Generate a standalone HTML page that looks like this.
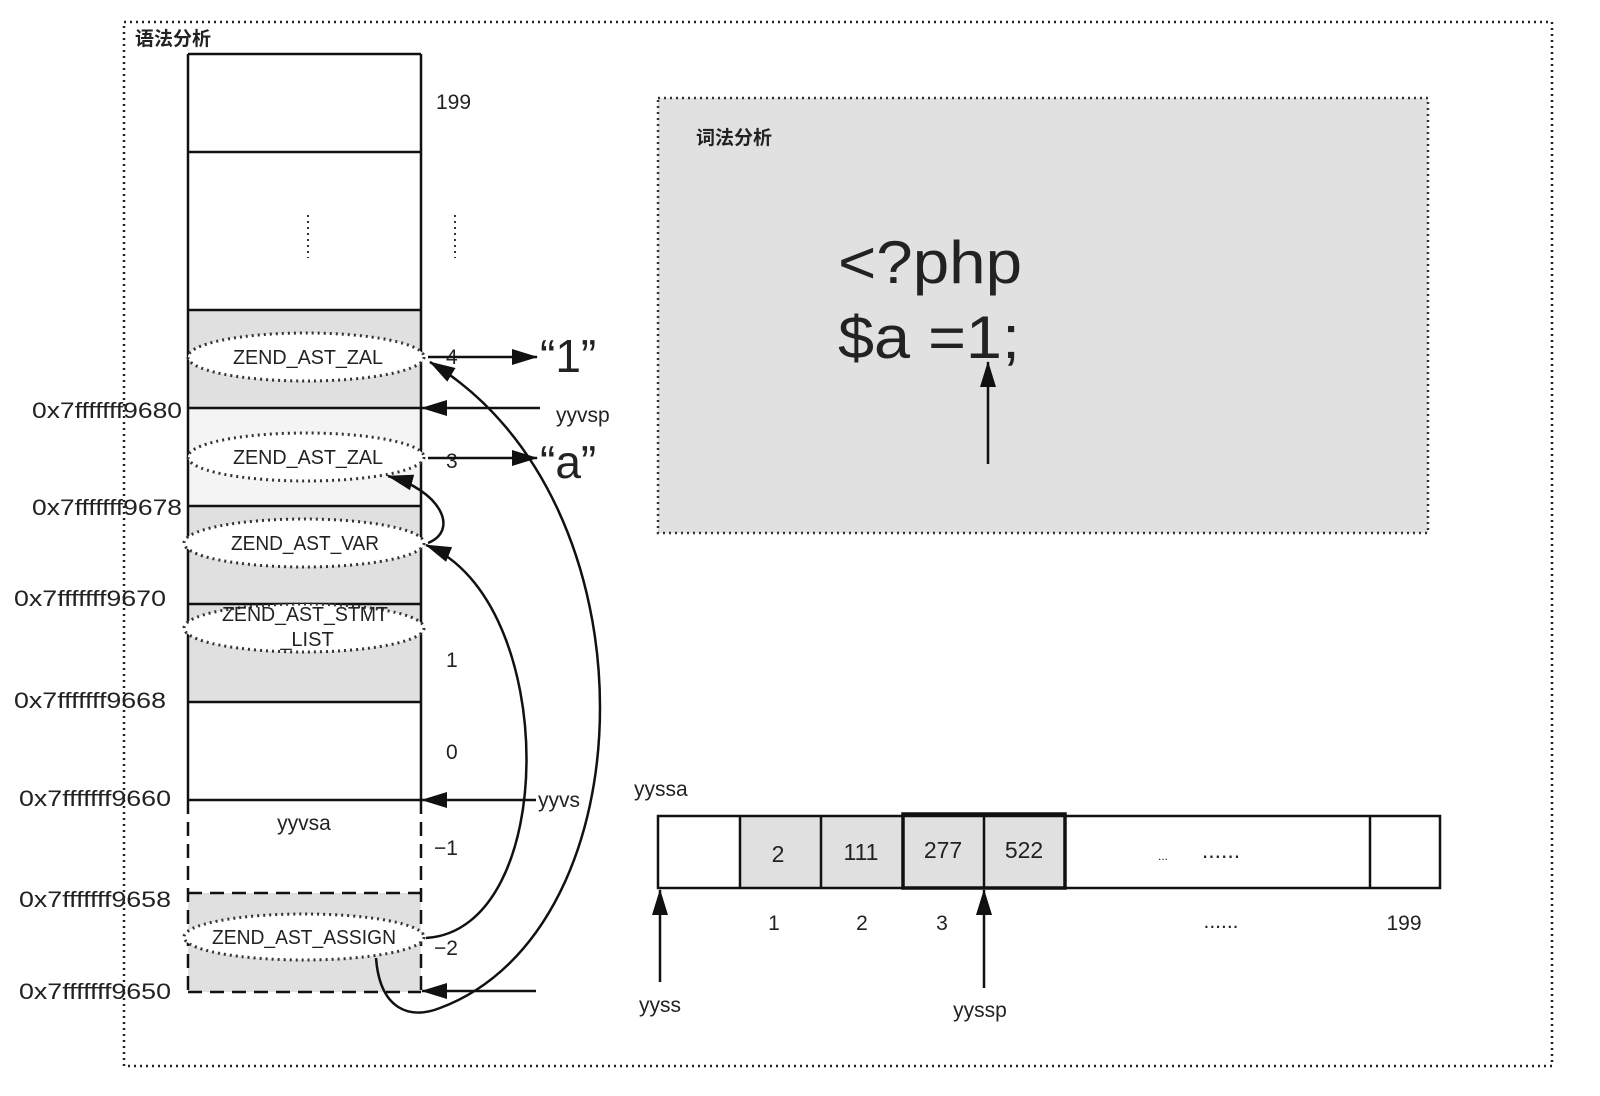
<!DOCTYPE html>
<html><head><meta charset="utf-8"><style>
html,body{margin:0;padding:0;background:#fff}
svg{display:block}
text{font-family:"Liberation Sans","Noto Sans CJK SC",sans-serif;fill:#222}
</style></head><body>
<svg width="1600" height="1096" viewBox="0 0 1600 1096" xmlns="http://www.w3.org/2000/svg">
<defs>
<marker id="arb" markerWidth="26" markerHeight="16" refX="25" refY="8" orient="auto" markerUnits="userSpaceOnUse">
<path d="M0,0 L26,8 L0,16 Z" fill="#111"/></marker>
</defs>
<rect x="124" y="22" width="1428" height="1044" fill="none" stroke="#222" stroke-width="2.5" stroke-dasharray="2,4"/>
<text x="135" y="45" font-size="19" font-weight="bold">语法分析</text>

<rect x="658" y="98" width="770" height="435" fill="#e1e1e1" stroke="#333" stroke-width="2.5" stroke-dasharray="2,4"/>
<text x="696" y="144" font-size="19" font-weight="bold">词法分析</text>
<text x="838" y="283" font-size="60" textLength="184" lengthAdjust="spacingAndGlyphs">&lt;?php</text>
<text x="838" y="358" font-size="60" textLength="182" lengthAdjust="spacingAndGlyphs">$a =1;</text>
<line x1="988" y1="464" x2="988" y2="362" stroke="#111" stroke-width="2.5" marker-end="url(#arb)"/>

<rect x="188" y="310" width="233" height="98" fill="#e0e0e0"/>
<rect x="188" y="408" width="233" height="98" fill="#f4f4f4"/>
<rect x="188" y="506" width="233" height="196" fill="#e0e0e0"/>
<rect x="188" y="893" width="233" height="99" fill="#e0e0e0"/>
<g stroke="#111" stroke-width="2.5" fill="none">
<line x1="188" y1="54" x2="421" y2="54"/>
<line x1="188" y1="54" x2="188" y2="800"/>
<line x1="421" y1="54" x2="421" y2="800"/>
<line x1="188" y1="152" x2="421" y2="152"/>
<line x1="188" y1="310" x2="421" y2="310"/>
<line x1="188" y1="408" x2="421" y2="408"/>
<line x1="188" y1="506" x2="421" y2="506"/>
<line x1="188" y1="604" x2="421" y2="604"/>
<line x1="188" y1="702" x2="421" y2="702"/>
<line x1="188" y1="800" x2="421" y2="800"/>
</g>
<g stroke="#111" stroke-width="2.5" fill="none" stroke-dasharray="14,8">
<line x1="188" y1="800" x2="188" y2="992"/>
<line x1="421" y1="800" x2="421" y2="992"/>
<line x1="188" y1="893" x2="421" y2="893"/>
<line x1="188" y1="992" x2="421" y2="992"/>
</g>
<line x1="308" y1="215" x2="308" y2="258" stroke="#333" stroke-width="2" stroke-dasharray="2,4"/>
<line x1="455" y1="215" x2="455" y2="258" stroke="#333" stroke-width="2" stroke-dasharray="2,4"/>

<g fill="#fff" stroke="#333" stroke-width="3" stroke-dasharray="2,4">
<ellipse cx="306" cy="357" rx="118" ry="24"/>
<ellipse cx="306" cy="457" rx="118" ry="24"/>
<ellipse cx="304" cy="543" rx="120" ry="24"/>
<ellipse cx="304" cy="628" rx="120" ry="24"/>
<ellipse cx="304" cy="937" rx="120" ry="23"/>
</g>
<g font-size="20" text-anchor="middle">
<text x="308" y="364" textLength="150" lengthAdjust="spacingAndGlyphs">ZEND_AST_ZAL</text>
<text x="308" y="464" textLength="150" lengthAdjust="spacingAndGlyphs">ZEND_AST_ZAL</text>
<text x="305" y="550" textLength="148" lengthAdjust="spacingAndGlyphs">ZEND_AST_VAR</text>
<text x="305" y="621" textLength="166" lengthAdjust="spacingAndGlyphs">ZEND_AST_STMT</text>
<text x="307" y="646">_LIST</text>
<text x="304" y="944" textLength="184" lengthAdjust="spacingAndGlyphs">ZEND_AST_ASSIGN</text>
<text x="304" y="830" font-size="21">yyvsa</text>
</g>

<g font-size="22">
<text x="32" y="418" textLength="150" lengthAdjust="spacingAndGlyphs">0x7fffffff9680</text>
<text x="32" y="515" textLength="150" lengthAdjust="spacingAndGlyphs">0x7fffffff9678</text>
<text x="14" y="606" textLength="152" lengthAdjust="spacingAndGlyphs">0x7fffffff9670</text>
<text x="14" y="708" textLength="152" lengthAdjust="spacingAndGlyphs">0x7fffffff9668</text>
<text x="19" y="806" textLength="152" lengthAdjust="spacingAndGlyphs">0x7fffffff9660</text>
<text x="19" y="907" textLength="152" lengthAdjust="spacingAndGlyphs">0x7fffffff9658</text>
<text x="19" y="999" textLength="152" lengthAdjust="spacingAndGlyphs">0x7fffffff9650</text>
</g>

<g font-size="21">
<text x="436" y="109">199</text>
<text x="446" y="364">4</text>
<text x="446" y="468">3</text>
<text x="446" y="667">1</text>
<text x="446" y="759">0</text>
<text x="434" y="855">−1</text>
<text x="434" y="955">−2</text>
<text x="556" y="422">yyvsp</text>
<text x="538" y="807">yyvs</text>
</g>
<text x="540" y="372" font-size="46">“1”</text>
<text x="540" y="478" font-size="46">“a”</text>

<g stroke="#111" stroke-width="2.5" fill="none">
<line x1="428" y1="357" x2="537" y2="357" marker-end="url(#arb)"/>
<line x1="428" y1="458" x2="537" y2="458" marker-end="url(#arb)"/>
<line x1="540" y1="408" x2="422" y2="408" marker-end="url(#arb)"/>
<line x1="536" y1="800" x2="422" y2="800" marker-end="url(#arb)"/>
<line x1="536" y1="991" x2="422" y2="991" marker-end="url(#arb)"/>
<path d="M426,938 C560,930 560,600 426,545" marker-end="url(#arb)"/>
<path d="M376,958 C380,1010 410,1020 440,1008 C650,930 660,500 430,362" marker-end="url(#arb)"/>
<path d="M428,543 C460,530 440,490 388,476" marker-end="url(#arb)"/>
</g>

<text x="634" y="796" font-size="21">yyssa</text>
<rect x="740" y="816" width="163" height="72" fill="#e0e0e0"/>
<rect x="903" y="816" width="162" height="72" fill="#e0e0e0"/>
<g stroke="#111" stroke-width="2.5" fill="none">
<rect x="658" y="816" width="782" height="72"/>
<line x1="740" y1="816" x2="740" y2="888"/>
<line x1="821" y1="816" x2="821" y2="888"/>
<line x1="984" y1="816" x2="984" y2="888"/>
<line x1="1370" y1="816" x2="1370" y2="888"/>
<rect x="903" y="814" width="162" height="74" stroke-width="3.5"/>
</g>
<g font-size="23" text-anchor="middle">
<text x="778" y="862">2</text>
<text x="861" y="860">111</text>
<text x="943" y="858">277</text>
<text x="1024" y="858">522</text>
<text x="1163" y="860" font-size="12">...</text>
<text x="1221" y="858">......</text>
<text x="774" y="930" font-size="21">1</text>
<text x="862" y="930" font-size="21">2</text>
<text x="942" y="930" font-size="21">3</text>
<text x="1221" y="928" font-size="21">......</text>
<text x="1404" y="930" font-size="21">199</text>
<text x="660" y="1012" font-size="21">yyss</text>
<text x="980" y="1017" font-size="21">yyssp</text>
</g>
<line x1="660" y1="982" x2="660" y2="890" stroke="#111" stroke-width="2.5" marker-end="url(#arb)"/>
<line x1="984" y1="988" x2="984" y2="890" stroke="#111" stroke-width="2.5" marker-end="url(#arb)"/>
</svg>
</body></html>
